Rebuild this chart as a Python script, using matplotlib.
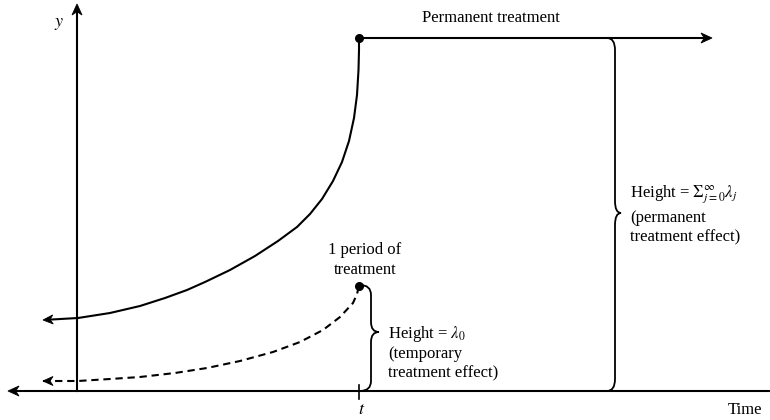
import numpy as np
import matplotlib
matplotlib.use('Agg')
import matplotlib.pyplot as plt
from matplotlib.patches import Polygon, PathPatch
from matplotlib.path import Path

plt.rcParams['font.family'] = ['Liberation Serif', 'DejaVu Serif']
plt.rcParams['mathtext.fontset'] = 'stix'

# curves (pixel coords, y grows downward)
perm_x = [43, 78, 110, 140, 165, 187, 205, 230, 255, 278, 297, 310, 322, 333, 342, 349, 354, 357, 358.5, 359, 359]
perm_y = [320, 318, 313, 306, 298, 290, 282, 270, 256, 241, 227, 214, 199, 181, 162, 141, 118, 95, 70, 50, 38]
temp_x = [43, 78, 110, 140, 175, 207, 240, 273, 300, 323, 340, 353, 357, 359]
temp_y = [381, 381, 379, 377, 373, 368, 361, 352, 342, 330, 317, 303, 294, 286]
t_pos = 359
axis_y = 391
yaxis_x = 77
perm_level = 38
perm_end = 712

fig = plt.figure(figsize=(7.7, 4.2), dpi=100)
ax = fig.add_axes([0, 0, 1, 1])
ax.set_xlim(0, 770)
ax.set_ylim(420, 0)
ax.axis('off')

lw = 1.5


def stealth(tip, direction, length=11, width=10):
    d = np.array(direction, float)
    d /= np.hypot(*d)
    n = np.array([-d[1], d[0]])
    tip = np.array(tip, float)
    back = tip - d * length
    pts = [tip, back + n * width / 2, tip - d * length * 0.7, back - n * width / 2]
    ax.add_patch(Polygon(pts, closed=True, fc='black', ec='black', lw=0.6, zorder=5))
    return tip - d * length * 0.7


# axes
notch = stealth((8, axis_y), (-1, 0))
ax.plot([notch[0], 770], [axis_y, axis_y], color='black', lw=lw)
notch = stealth((yaxis_x, 4), (0, -1))
ax.plot([yaxis_x, yaxis_x], [axis_y, notch[1]], color='black', lw=lw)

# tick at t
ax.plot([t_pos, t_pos], [385, 399], color='black', lw=1.2)

# permanent treatment curve
ax.plot(perm_x[1:], perm_y[1:], color='black', lw=lw, solid_joinstyle='round')
notch = stealth((perm_x[0], perm_y[0]), (perm_x[0] - perm_x[1], perm_y[0] - perm_y[1]), length=10, width=9)
ax.plot([notch[0], perm_x[1]], [notch[1], perm_y[1]], color='black', lw=lw)

# one-period curve (dashed)
ax.plot(temp_x, temp_y, color='black', lw=lw, linestyle=(0, (3.5, 2.3)))
stealth((temp_x[0], temp_y[0]), (-1, 0), length=10, width=9)

# dots
ax.plot([perm_x[-1], temp_x[-1]], [perm_y[-1], temp_y[-1]], 'o', color='black', ms=5.5, zorder=6)

# permanent arrow
notch = stealth((perm_end, perm_level), (1, 0))
ax.plot([perm_x[-1], notch[0]], [perm_level, perm_level], color='black', lw=lw)


def brace(x0, xv, xtip, ytop, ymid, ybot, r):
    verts = [(x0, ytop), (xv, ytop), (xv, ytop + r),
             (xv, ymid - r), (xv, ymid), (xtip, ymid),
             (xv, ymid), (xv, ymid + r),
             (xv, ybot - r), (xv, ybot), (x0, ybot)]
    codes = [Path.MOVETO, Path.CURVE3, Path.CURVE3,
             Path.LINETO, Path.CURVE3, Path.CURVE3,
             Path.CURVE3, Path.CURVE3,
             Path.LINETO, Path.CURVE3, Path.CURVE3]
    ax.add_patch(PathPatch(Path(verts, codes), fc='none', ec='black', lw=1.3))


brace(607, 615, 621, perm_level, 213, axis_y, 12)
brace(360, 371, 379, 285, 332, axis_y, 10)

fs = 12
ax.text(491, 18, 'Permanent treatment', fontsize=fs, ha='center', va='center')
ax.text(365, 250, '1 period of', fontsize=fs, ha='center', va='center')
ax.text(365, 270, 'treatment', fontsize=fs, ha='center', va='center')
ax.text(388, 334, r'Height = $\lambda_0$', fontsize=fs, ha='left', va='center')
ax.text(388, 354, '(temporary', fontsize=fs, ha='left', va='center')
ax.text(388, 373, 'treatment effect)', fontsize=fs, ha='left', va='center')
ax.text(630, 194, r'Height = $\Sigma_{j=0}^{\infty}\lambda_j$', fontsize=fs, ha='left', va='center')
ax.text(630, 218, '(permanent', fontsize=fs, ha='left', va='center')
ax.text(630, 237, 'treatment effect)', fontsize=fs, ha='left', va='center')
ax.text(59, 24, r'$y$', fontsize=13, ha='center', va='center')
ax.text(362, 409, r'$t$', fontsize=13, ha='center', va='center')
ax.text(745, 410, 'Time', fontsize=fs, ha='center', va='center')

fig.savefig('out.png', dpi=100)
